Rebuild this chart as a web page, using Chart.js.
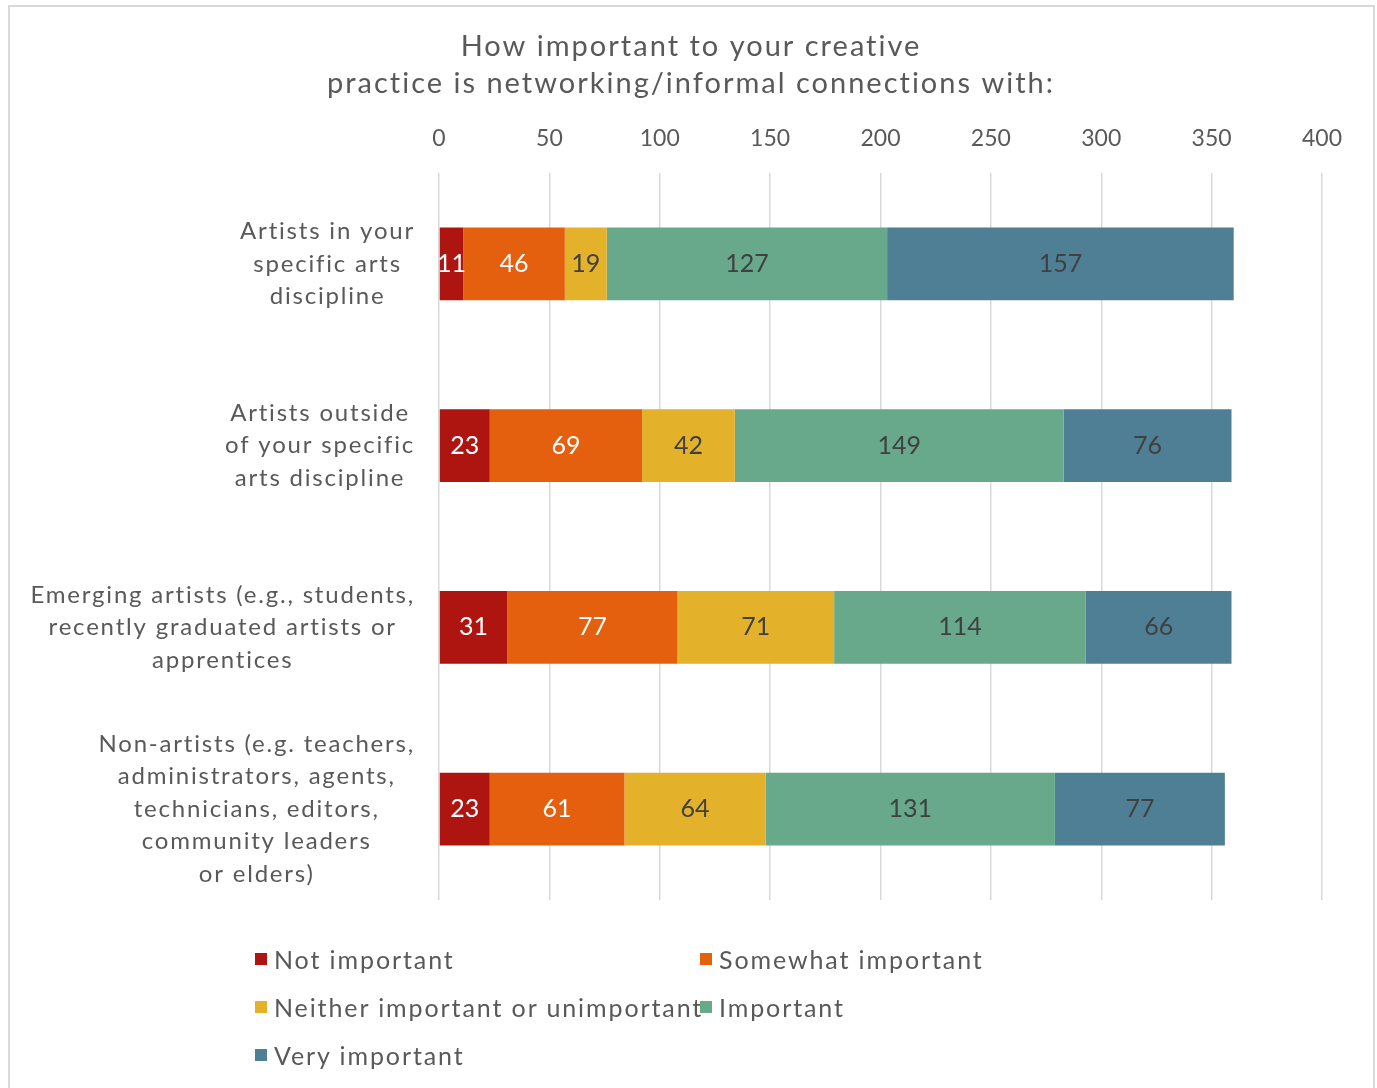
<!DOCTYPE html>
<html>
<head>
<meta charset="utf-8">
<title>Networking / informal connections</title>
<script src="https://cdn.jsdelivr.net/npm/chart.js@4.4.1/dist/chart.umd.min.js"></script>
<style>
  html, body { margin: 0; padding: 0; background: #fff; }
  body { width: 1377px; height: 1088px; position: relative; overflow: hidden; font-family: Lato, sans-serif; }
  #frame { position: absolute; left: 8px; top: 5px; width: 1367px; height: 1100px; border: 2px solid #d9d9d9; box-sizing: border-box; }
  #networking-chart { position: absolute; left: 0; top: 0; }
  #legend { position: absolute; left: 255px; top: 935px; display: grid; grid-template-columns: 445px 445px; }
  .legend-item { display: flex; align-items: center; height: 48px; font-size: 25px; letter-spacing: 1.9px; color: #595959; white-space: nowrap; }
  .legend-swatch { width: 12px; height: 12px; margin-right: 7px; flex: none; }
</style>
</head>
<body>
<div id="frame"></div>
<canvas id="networking-chart" width="1377" height="1088"></canvas>
<div id="legend"></div>
<script>
const titleLines = [
  "How important to your creative",
  "practice is networking/informal connections with:",
];

const categories = [
  ["Artists in your", "specific arts", "discipline"],
  ["Artists outside", "of your specific", "arts discipline"],
  ["Emerging artists (e.g., students,", "recently graduated artists or", "apprentices"],
  ["Non-artists (e.g. teachers,", "administrators, agents,", "technicians, editors,", "community leaders", "or elders)"],
];

const responseLabels = [
  "Not important",
  "Somewhat important",
  "Neither important or unimportant",
  "Important",
  "Very important",
];

const notImportant = [11, 23, 31, 23];
const somewhatImportant = [46, 69, 77, 61];
const neitherImportant = [19, 42, 71, 64];
const important = [127, 149, 114, 131];
const veryImportant = [157, 76, 66, 77];

const axisMin = 0;
const axisMax = 400;
const axisStep = 50;

const seriesColors = ["#ae1511", "#e5600e", "#e4b12a", "#67a98a", "#4e7f94"];
const valueColors = ["#ffffff", "#ffffff", "#404040", "#404040", "#404040"];
const textColor = "#595959";
const gridColor = "#d9d9d9";
const fontFamily = "Lato, 'Open Sans', sans-serif";

const seriesValues = [notImportant, somewhatImportant, neitherImportant, important, veryImportant];

// two-line heading, centred inside the frame
const headingPlugin = {
  id: "heading",
  afterDraw(chart) {
    const { ctx } = chart;
    const centerX = (8 + 1374) / 2;
    ctx.save();
    ctx.font = `29px ${fontFamily}`;
    ctx.letterSpacing = "2px";
    ctx.fillStyle = textColor;
    ctx.textAlign = "center";
    ctx.textBaseline = "middle";
    titleLines.forEach((line, index) => {
      ctx.fillText(line, centerX, 46.5 + index * 37);
    });
    ctx.restore();
  },
};

// category names: each block centred on its widest line, right edge next to the plot
const categoryLabelPlugin = {
  id: "categoryLabels",
  afterDraw(chart) {
    const { ctx, chartArea } = chart;
    const yScale = chart.scales.y;
    const rightEdge = chartArea.left - 24;
    const lineSpacing = 32.5;
    ctx.save();
    ctx.font = `24px ${fontFamily}`;
    ctx.letterSpacing = "1.8px";
    ctx.fillStyle = textColor;
    ctx.textAlign = "center";
    ctx.textBaseline = "middle";
    categories.forEach((lines, index) => {
      const centerY = yScale.getPixelForValue(index);
      const blockWidth = Math.max(...lines.map((line) => ctx.measureText(line).width));
      const centerX = rightEdge - blockWidth / 2;
      const firstY = centerY - ((lines.length - 1) * lineSpacing) / 2;
      lines.forEach((line, lineIndex) => {
        ctx.fillText(line, centerX, firstY + lineIndex * lineSpacing);
      });
    });
    ctx.restore();
  },
};

// counts written in the middle of each segment
const segmentValuePlugin = {
  id: "segmentValues",
  afterDatasetsDraw(chart) {
    const { ctx } = chart;
    ctx.save();
    ctx.font = `25px ${fontFamily}`;
    ctx.textAlign = "center";
    ctx.textBaseline = "middle";
    chart.data.datasets.forEach((dataset, datasetIndex) => {
      const meta = chart.getDatasetMeta(datasetIndex);
      ctx.fillStyle = valueColors[datasetIndex];
      meta.data.forEach((bar, index) => {
        const { x, y } = bar.getCenterPoint();
        ctx.fillText(String(dataset.data[index]), x, y);
      });
    });
    ctx.restore();
  },
};

const networkingChart = new Chart(document.getElementById("networking-chart"), {
  type: "bar",
  data: {
    labels: categories,
    datasets: responseLabels.map((label, index) => ({
      label,
      data: seriesValues[index],
      backgroundColor: seriesColors[index],
      borderWidth: 0,
      barPercentage: 0.4,
      categoryPercentage: 1,
    })),
  },
  options: {
    indexAxis: "y",
    responsive: false,
    animation: false,
    layout: {
      padding: { left: 8, right: 55, top: 102, bottom: 188 },
    },
    plugins: {
      legend: { display: false },
      tooltip: { enabled: false },
      title: { display: false },
    },
    scales: {
      x: {
        position: "top",
        stacked: true,
        min: axisMin,
        max: axisMax,
        ticks: {
          stepSize: axisStep,
          color: textColor,
          padding: 21,
          font: { family: fontFamily, size: 23 },
        },
        grid: { color: gridColor, lineWidth: 1.5, drawTicks: false },
        border: { display: false },
        afterFit: (scale) => {
          scale.height = 71;
        },
      },
      y: {
        stacked: true,
        ticks: { display: false },
        grid: { display: false },
        border: { display: false },
        afterFit: (scale) => {
          scale.width = 431;
        },
      },
    },
  },
  plugins: [headingPlugin, categoryLabelPlugin, segmentValuePlugin],
});

const legendElement = document.getElementById("legend");
networkingChart.data.datasets.forEach((dataset) => {
  const item = document.createElement("div");
  item.className = "legend-item";
  const swatch = document.createElement("span");
  swatch.className = "legend-swatch";
  swatch.style.background = dataset.backgroundColor;
  const text = document.createElement("span");
  text.textContent = dataset.label;
  item.appendChild(swatch);
  item.appendChild(text);
  legendElement.appendChild(item);
});
</script>
</body>
</html>
